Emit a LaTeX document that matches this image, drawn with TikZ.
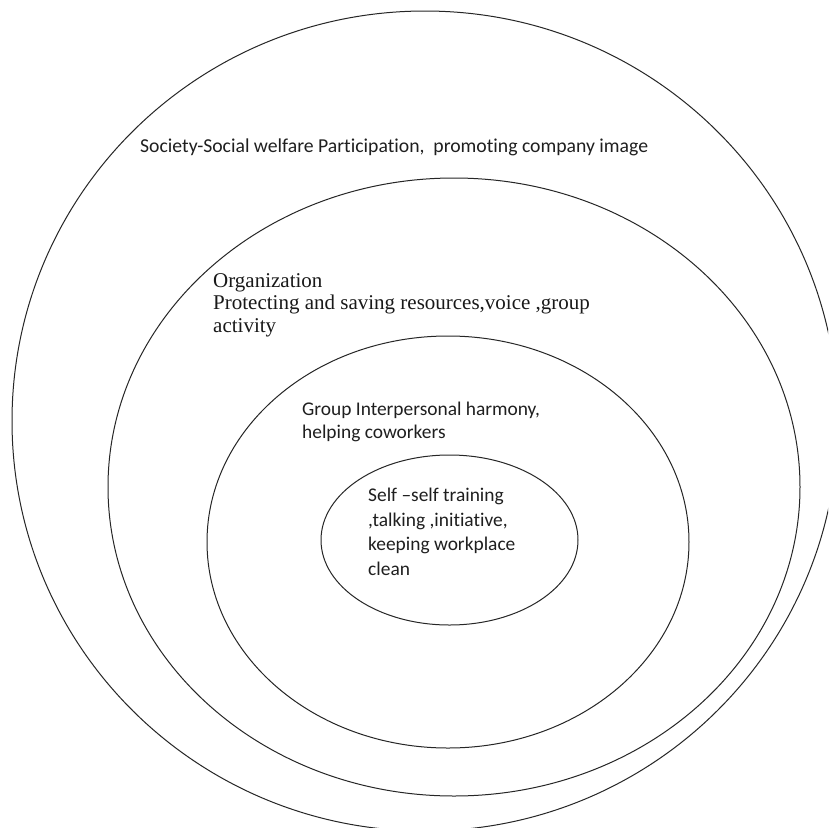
\documentclass[tikz,border=0pt]{standalone}
\usepackage{fontspec}
\setmainfont{Liberation Serif}
\newfontfamily\calib[Ligatures=NoCommon]{Carlito}
\usetikzlibrary{shapes.geometric}
\begin{document}
\begin{tikzpicture}[x=1pt,y=-1pt,
  ring/.style={ellipse,draw=black!85,line width=1pt,inner sep=0pt},
  sanslabel/.style={anchor=base west,align=left,inner sep=0pt,text=black!88,
    font=\calib\fontsize{19.4}{22.5}\selectfont},
  seriflabel/.style={anchor=base west,align=left,inner sep=0pt,text=black!90,
    font=\fontsize{21}{22.5}\selectfont}]
\useasboundingbox (0,0) rectangle (828,828);
\clip (0,0) rectangle (828,828);
\fill[white] (0,0) rectangle (828,828);

% four nested rings, from the widest to the innermost
\node[ring,minimum width=826pt,minimum height=820pt] (society) at (425,421) {};
\node[ring,minimum width=692pt,minimum height=618pt] (organization) at (454,487) {};
\node[ring,minimum width=482pt,minimum height=412pt] (group) at (448,542) {};
\node[ring,minimum width=257pt,minimum height=170pt] (self) at (449.5,540) {};

% labels of each level (multi-line labels are placed by their last baseline)
\node[sanslabel,font=\calib\fontsize{19.7}{22.5}\selectfont] (societytext) at (140,152)
  {Society-Social welfare Participation,\ \ promoting company image};
\node[seriflabel] (orgtext) at (213,332)
  {Organization\\Protecting and saving resources,voice ,group\\activity};
\node[sanslabel] (grouptext) at (302,438)
  {Group Interpersonal harmony,\\helping coworkers};
\node[sanslabel,font=\calib\fontsize{19.4}{24.5}\selectfont] (selftext) at (368,575)
  {Self –self training\\,talking ,initiative,\\keeping workplace\\clean};
\end{tikzpicture}
\end{document}
